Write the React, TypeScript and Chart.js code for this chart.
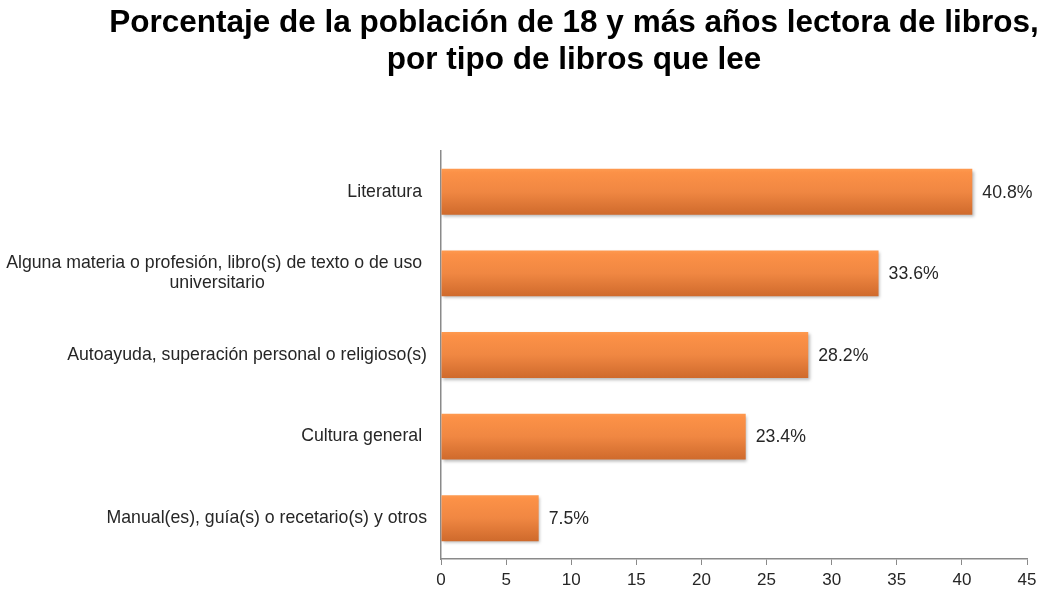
import React, { useEffect, useRef } from "react";
import { Chart, registerables } from "chart.js";

Chart.register(...registerables);

const titleLines = [
  "Porcentaje de la población de 18 y más años lectora de libros,",
  "por tipo de libros que lee",
];
const categories: (string | string[])[] = [
  "Literatura ",
  ["Alguna materia o profesión, libro(s) de texto o de uso ", "universitario"],
  "Autoayuda, superación personal o religioso(s)",
  "Cultura general ",
  "Manual(es), guía(s) o recetario(s) y otros",
];
const values = [40.8, 33.6, 28.2, 23.4, 7.5];
const xMin = 0;
const xMax = 45;
const xStep = 5;

const FONT = '"Liberation Sans", Arial, Helvetica, sans-serif';
const LABEL_SIZE = 17.7;
const BAR_FRACTION = 0.9 * 0.625;

export default function App() {
  const ref = useRef<HTMLCanvasElement | null>(null);

  useEffect(() => {
    const canvas = ref.current;
    if (!canvas) return;

    // center second lines of multi-line labels under their first line
    const mctx = document.createElement("canvas").getContext("2d")!;
    mctx.font = `${LABEL_SIZE}px ${FONT}`;
    const spaceW = mctx.measureText(" ").width || 4.9;
    const tickLabels = categories.map((c) => {
      if (!Array.isArray(c)) return c;
      const w1 = mctx.measureText(c[0]).width;
      return c.map((line, i) => {
        if (i === 0) return line;
        const w2 = mctx.measureText(line).width;
        const n = Math.max(0, Math.round((w1 - w2) / 2 / spaceW));
        return line + " ".repeat(n);
      });
    });

    const titlePlugin = {
      id: "customTitle",
      afterDraw(chart: any) {
        const ctx = chart.ctx;
        ctx.save();
        ctx.font = `bold 31.5px ${FONT}`;
        ctx.fillStyle = "#000";
        ctx.textAlign = "center";
        ctx.textBaseline = "alphabetic";
        titleLines.forEach((line, i) => {
          ctx.fillText(line, 574, 32 + i * 37);
        });
        ctx.restore();
      },
    };

    const shadowPlugin = {
      id: "barShadow",
      beforeDatasetsDraw(chart: any) {
        const ctx = chart.ctx;
        ctx.save();
        ctx.shadowColor = "rgba(0,0,0,0.28)";
        ctx.shadowBlur = 3;
        ctx.shadowOffsetX = 1.5;
        ctx.shadowOffsetY = 2;
      },
      afterDatasetsDraw(chart: any) {
        chart.ctx.restore();
      },
    };

    const valueLabelPlugin = {
      id: "valueLabels",
      afterDraw(chart: any) {
        const ctx = chart.ctx;
        const meta = chart.getDatasetMeta(0);
        ctx.save();
        ctx.font = `${LABEL_SIZE}px ${FONT}`;
        ctx.fillStyle = "#262626";
        ctx.textAlign = "left";
        ctx.textBaseline = "middle";
        meta.data.forEach((el: any, i: number) => {
          ctx.fillText(`${values[i].toFixed(1)}%`, el.x + 10, el.y + 1);
        });
        ctx.restore();
      },
    };

    const chart = new Chart(canvas, {
      type: "bar",
      data: {
        labels: tickLabels as any,
        datasets: [
          {
            data: values,
            backgroundColor: (c: any) => {
              const ch = c.chart;
              const area = ch.chartArea;
              const ys = ch.scales && ch.scales.y;
              if (!area || !ys || c.type !== "data") return "#F08840";
              const center = ys.getPixelForValue(c.dataIndex);
              const half = ((area.bottom - area.top) / categories.length) * BAR_FRACTION / 2;
              const g = ch.ctx.createLinearGradient(0, center - half, 0, center + half);
              g.addColorStop(0, "#FE9A50");
              g.addColorStop(0.08, "#FC9147");
              g.addColorStop(0.5, "#F08742");
              g.addColorStop(1, "#CF6A2C");
              return g;
            },
            borderWidth: 0,
            barPercentage: 0.9,
            categoryPercentage: 0.625,
          },
        ],
      },
      options: {
        indexAxis: "y",
        responsive: false,
        animation: false,
        layout: { padding: { left: 0, right: 18, top: 151, bottom: 1 } },
        plugins: {
          legend: { display: false },
          tooltip: { enabled: false },
          title: { display: false },
        },
        scales: {
          x: {
            type: "linear",
            min: xMin,
            max: xMax,
            ticks: {
              stepSize: xStep,
              color: "#262626",
              font: { family: FONT, size: 17, lineHeight: 1.2 },
              padding: 5,
            },
            grid: {
              display: true,
              drawOnChartArea: false,
              drawTicks: true,
              tickLength: 6,
              color: "#8a8a8a",
              lineWidth: 1,
            },
            border: { display: true, color: "#8a8a8a", width: 1.5 },
            afterFit(scale: any) {
              scale.height = 31;
            },
          },
          y: {
            type: "category",
            ticks: {
              color: "#262626",
              font: { family: FONT, size: LABEL_SIZE, lineHeight: 1.12 },
              padding: 14,
              autoSkip: false,
            },
            grid: { display: false, drawTicks: false, tickLength: 0 },
            border: { display: true, color: "#8a8a8a", width: 1.5 },
            afterFit(scale: any) {
              scale.width = 441;
            },
          },
        },
      } as any,
      plugins: [shadowPlugin, valueLabelPlugin, titlePlugin],
    });

    return () => chart.destroy();
  }, []);

  return (
    <div style={{ position: "absolute", left: 0, top: 0, width: 1045, height: 591, background: "#fff" }}>
      <canvas ref={ref} width={1045} height={591} style={{ display: "block" }} />
    </div>
  );
}
